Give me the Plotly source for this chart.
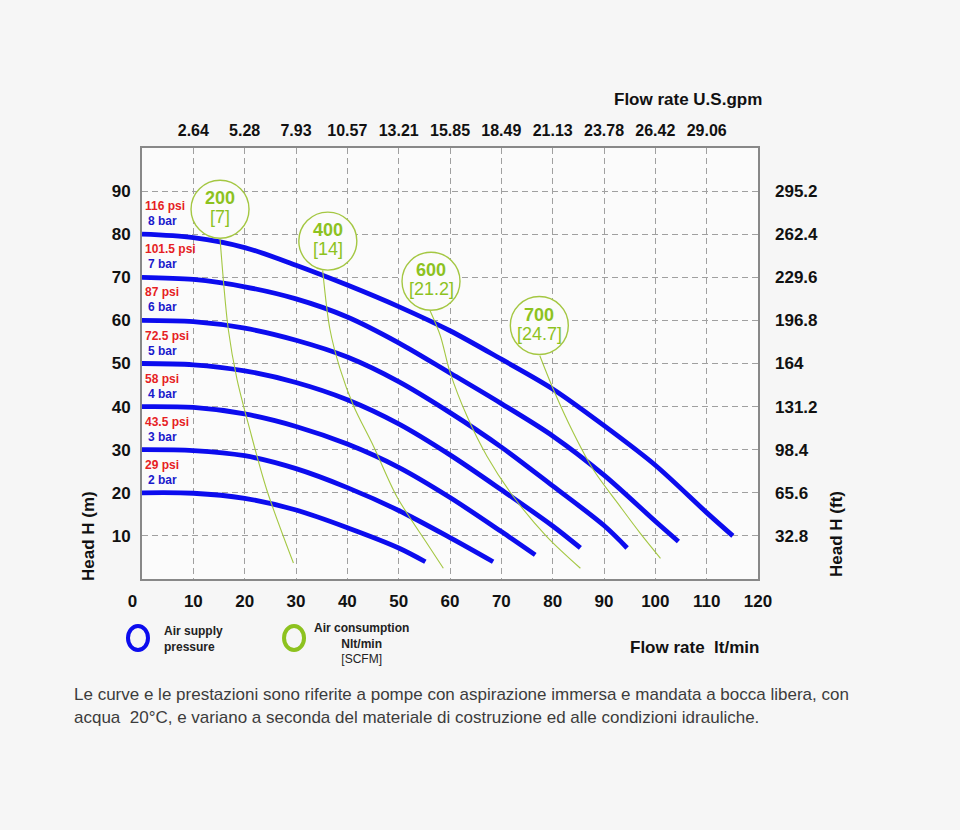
import plotly.graph_objects as go

# ---------------- data ----------------
flow_ticks = [0, 10, 20, 30, 40, 50, 60, 70, 80, 90, 100, 110, 120]
gpm_ticks = [10, 20, 30, 40, 50, 60, 70, 80, 90, 100, 110]
gpm_labels = ["2.64", "5.28", "7.93", "10.57", "13.21", "15.85", "18.49",
              "21.13", "23.78", "26.42", "29.06"]
head_ticks = [10, 20, 30, 40, 50, 60, 70, 80, 90]
ft_labels = ["32.8", "65.6", "98.4", "131.2", "164", "196.8", "229.6", "262.4", "295.2"]

bar_labels = ["2 bar", "3 bar", "4 bar", "5 bar", "6 bar", "7 bar", "8 bar"]
psi_labels = ["29 psi", "43.5 psi", "58 psi", "72.5 psi", "87 psi", "101.5 psi", "116 psi"]

q_2bar = [0, 10, 20, 30, 40, 50, 55.2]
h_2bar = [20, 19.9, 18.7, 16.0, 11.9, 7.2, 4.0]
q_3bar = [0, 10, 20, 30, 40, 50, 60, 68.4]
h_3bar = [30, 29.8, 28.6, 25.6, 21.2, 15.9, 9.6, 4.0]
q_4bar = [0, 10, 20, 30, 40, 50, 60, 70, 76.6]
h_4bar = [40, 39.8, 38.3, 35.4, 31.3, 25.9, 18.9, 11.0, 5.6]
q_5bar = [0, 10, 20, 30, 40, 50, 60, 70, 80, 85.4]
h_5bar = [50, 49.7, 48.3, 45.6, 41.6, 36.0, 28.8, 20.7, 12.3, 7.2]
q_6bar = [0, 10, 20, 30, 40, 50, 60, 70, 80, 90, 94.5]
h_6bar = [60, 59.7, 58.2, 55.4, 51.5, 45.8, 38.6, 30.6, 21.6, 12.4, 7.2]
q_7bar = [0, 10, 20, 30, 40, 50, 60, 70, 80, 90, 100, 104.5]
h_7bar = [70, 69.5, 67.8, 65.0, 60.8, 54.8, 47.8, 40.7, 33.2, 24.1, 13.4, 8.7]
q_8bar = [0, 10, 20, 30, 40, 50, 60, 70, 80, 90, 100, 110, 115.1]
h_8bar = [80, 79.2, 76.9, 72.8, 68.2, 63.2, 57.6, 51.0, 44.1, 35.6, 26.4, 15.4, 10.0]

q_air200 = [15.2, 16.8, 18.5, 21.0, 24.3, 29.5]
h_air200 = [79.0, 58.0, 46.4, 34.7, 20.7, 3.7]
q_air400 = [35.2, 36.6, 38.6, 41.2, 45.1, 49.6, 55.5, 58.7]
h_air400 = [71.6, 58.0, 48.7, 40.2, 30.8, 19.2, 8.3, 2.5]
q_air600 = [56.1, 58.1, 60.0, 63.3, 67.2, 72.3, 78.8, 85.4]
h_air600 = [62.3, 56.5, 48.0, 37.8, 28.5, 19.2, 9.9, 2.5]
q_air700 = [77.5, 80.1, 84.0, 87.9, 93.1, 97.0, 101.0]
h_air700 = [51.8, 44.1, 34.0, 25.4, 16.9, 10.7, 4.8]

air_nlmin = ["200", "400", "600", "700"]
air_scfm = ["7", "14", "21.2", "24.7"]
air_label_q = [15.2, 36.2, 56.3, 77.4]
air_label_h = [85.8, 78.4, 69.1, 58.8]

footnote_1 = "Le curve e le prestazioni sono riferite a pompe con aspirazione immersa e mandata a bocca libera, con"
footnote_2 = "acqua\u00a0 20°C, e variano a seconda del materiale di costruzione ed alle condizioni idrauliche."

# ---------------- styles ----------------
FONT = "Liberation Sans, Arial, sans-serif"
BLUE = "#0C0CEE"
BLUE_TXT = "#1A1ACC"
RED = "#E61E24"
GREEN = "#8DC21F"
GREEN_LINE = "#A4C742"
PAPER = "#F6F6F6"
PLOT = "#FBFBFB"
GRID = "#A0A0A0"
FRAME = "#888888"
DARK = "#111111"

pressure_q = [q_2bar, q_3bar, q_4bar, q_5bar, q_6bar, q_7bar, q_8bar]
pressure_h = [h_2bar, h_3bar, h_4bar, h_5bar, h_6bar, h_7bar, h_8bar]
air_q = [q_air200, q_air400, q_air600, q_air700]
air_h = [h_air200, h_air400, h_air600, h_air700]

fig = go.Figure()

for q, h in zip(pressure_q, pressure_h):
    fig.add_trace(go.Scatter(x=q, y=h, mode="lines",
                             line=dict(color=BLUE, width=4.8, shape="spline", smoothing=0.9),
                             hoverinfo="skip", showlegend=False))

for q, h in zip(air_q, air_h):
    fig.add_trace(go.Scatter(x=q, y=h, mode="lines",
                             line=dict(color=GREEN_LINE, width=1.1, shape="spline", smoothing=0.9),
                             hoverinfo="skip", showlegend=False))

fig.add_trace(go.Scatter(x=air_label_q, y=air_label_h, mode="markers",
                         marker=dict(symbol="circle", size=58, color=PLOT,
                                     line=dict(color=GREEN_LINE, width=1.4)),
                         hoverinfo="skip", showlegend=False, cliponaxis=False))

# invisible trace to activate secondary axes
fig.add_trace(go.Scatter(x=[0], y=[0], xaxis="x2", yaxis="y2", mode="markers",
                         marker=dict(opacity=0), hoverinfo="skip", showlegend=False))

ann = []
for q, h, bl, pl in zip(pressure_q, pressure_h, bar_labels, psi_labels):
    ann.append(dict(x=q[0], y=h[0], xref="x", yref="y", text=bl, showarrow=False,
                    xanchor="left", yanchor="middle", xshift=4, yshift=13,
                    font=dict(family=FONT, size=12, color=BLUE_TXT, weight="bold")))
    ann.append(dict(x=q[0], y=h[0], xref="x", yref="y", text=pl, showarrow=False,
                    xanchor="left", yanchor="middle", xshift=1, yshift=28,
                    font=dict(family=FONT, size=12, color=RED, weight="bold")))

for q, h, n, s in zip(air_label_q, air_label_h, air_nlmin, air_scfm):
    ann.append(dict(x=q, y=h, xref="x", yref="y", text=n, showarrow=False,
                    xanchor="center", yanchor="middle", yshift=11,
                    font=dict(family=FONT, size=18, color=GREEN, weight="bold")))
    ann.append(dict(x=q, y=h, xref="x", yref="y", text="[" + s + "]", showarrow=False,
                    xanchor="center", yanchor="middle", yshift=-8,
                    font=dict(family=FONT, size=18, color=GREEN)))

# titles & texts (paper coords)
ann += [
    dict(x=1.0097, y=1.1114, xref="paper", yref="paper", text="Flow rate U.S.gpm",
         showarrow=False, xanchor="right", yanchor="middle",
         font=dict(family=FONT, size=17, color=DARK, weight="bold")),
    dict(x=1.0049, y=-0.1578, xref="paper", yref="paper", text="Flow rate\u00a0 lt/min",
         showarrow=False, xanchor="right", yanchor="middle",
         font=dict(family=FONT, size=17, color=DARK, weight="bold")),
    dict(x=-0.0860, y=0.0998, xref="paper", yref="paper", text="Head H (m)", textangle=-90,
         showarrow=False, xanchor="center", yanchor="middle",
         font=dict(family=FONT, size=17, color=DARK, weight="bold")),
    dict(x=1.1266, y=0.1044, xref="paper", yref="paper", text="Head H (ft)", textangle=-90,
         showarrow=False, xanchor="center", yanchor="middle",
         font=dict(family=FONT, size=17, color=DARK, weight="bold")),
    dict(x=0.0325, y=-0.1392, xref="paper", yref="paper", text="<b>Air supply</b><br><b>pressure</b>",
         showarrow=False, xanchor="left", yanchor="middle", align="left",
         font=dict(family=FONT, size=12, color="#222222")),
    dict(x=0.3571, y=-0.1485, xref="paper", yref="paper",
         text="<b>Air consumption</b><br><b>Nlt/min</b><br>[SCFM]",
         showarrow=False, xanchor="center", yanchor="middle", align="center",
         font=dict(family=FONT, size=12, color="#222222")),
    dict(x=-0.1136, y=-0.2691, xref="paper", yref="paper", text=footnote_1,
         showarrow=False, xanchor="left", yanchor="middle",
         font=dict(family=FONT, size=17, color="#3C3C3C")),
    dict(x=-0.1136, y=-0.3225, xref="paper", yref="paper", text=footnote_2,
         showarrow=False, xanchor="left", yanchor="middle",
         font=dict(family=FONT, size=17, color="#3C3C3C")),
]

shapes = [
    dict(type="circle", xref="paper", yref="paper", xsizemode="pixel", ysizemode="pixel",
         xanchor=-0.0065, yanchor=-0.1369, x0=-10, x1=10, y0=-12, y1=12,
         line=dict(color=BLUE, width=4)),
    dict(type="circle", xref="paper", yref="paper", xsizemode="pixel", ysizemode="pixel",
         xanchor=0.2468, yanchor=-0.1369, x0=-10, x1=10, y0=-12, y1=12,
         line=dict(color=GREEN, width=4)),
]

x_ticktext = ["0\u00a0\u00a0\u00a0\u00a0"] + [str(v) for v in flow_ticks[1:]]
tick_font = dict(family=FONT, size=17, color=DARK, weight="bold")

fig.update_layout(
    width=960, height=830, autosize=False,
    margin=dict(l=142, r=202, t=148, b=251, pad=0),
    paper_bgcolor=PAPER, plot_bgcolor=PLOT,
    showlegend=False,
    annotations=ann, shapes=shapes,
    xaxis=dict(range=[0, 120], tickmode="array", tickvals=flow_ticks, ticktext=x_ticktext,
               showgrid=True, gridcolor=GRID, gridwidth=1, griddash="6px,4px",
               showline=True, mirror=True, linecolor=FRAME, linewidth=2,
               zeroline=False, ticks="", ticklabelstandoff=6, tickfont=tick_font),
    xaxis2=dict(range=[0, 120], overlaying="x", side="top", tickmode="array",
                tickvals=gpm_ticks, ticktext=gpm_labels, showgrid=False, showline=False,
                zeroline=False, ticks="", ticklabelstandoff=8,
                tickfont=dict(family=FONT, size=16, color=DARK, weight="bold")),
    yaxis=dict(range=[0, 100], tickmode="array", tickvals=head_ticks,
               showgrid=True, gridcolor=GRID, gridwidth=1, griddash="6px,4px",
               showline=True, mirror=True, linecolor=FRAME, linewidth=2,
               zeroline=False, ticks="", ticklabelstandoff=6, tickfont=tick_font),
    yaxis2=dict(range=[0, 100], overlaying="y", side="right", tickmode="array",
                tickvals=head_ticks, ticktext=ft_labels, showgrid=False, showline=False,
                zeroline=False, ticks="", ticklabelstandoff=16, tickfont=tick_font),
)

fig.write_html("out.html",
               config={"displayModeBar": False},
               post_script="document.body.style.margin='0';"
                           "document.body.style.background='#F6F6F6';")
